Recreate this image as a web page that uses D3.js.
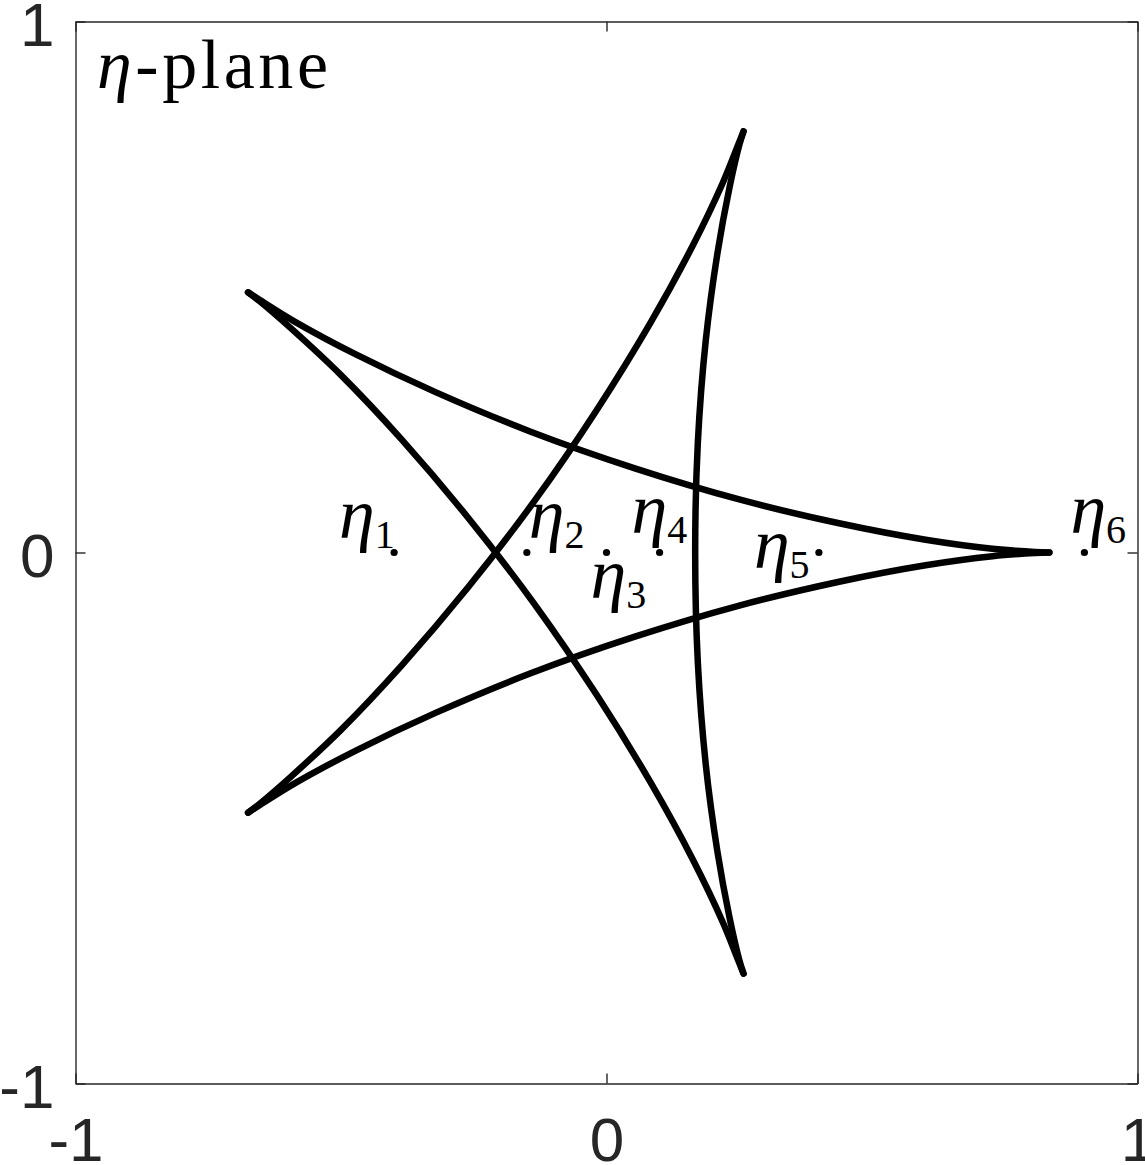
<!DOCTYPE html>
<html>
<head>
<meta charset="utf-8">
<script src="https://cdn.jsdelivr.net/npm/d3@7"></script>
<style>
  html, body { margin: 0; padding: 0; background: #fff; }
  svg { display: block; }
</style>
</head>
<body>
<svg id="chart" width="1145" height="1165"></svg>
<script>
// ---- data ----
const xTicks = [-1, 0, 1];
const yTicks = [-1, 0, 1];
const xTickLabels = ["-1", "0", "1"];
const yTickLabels = ["-1", "0", "1"];

// five curved edges of the star-shaped curve, cusp to cusp
const edgeRightToUpperLeft = [[0.834,0],[0.807,0.001],[0.727,0.007],[0.601,0.024],[0.438,0.055],[0.250,0.100],[0.052,0.159],[-0.144,0.228],[-0.322,0.302],[-0.472,0.373],[-0.584,0.433],[-0.652,0.475],[-0.675,0.490]];
const edgeUpperLeftToBottom = [[-0.675,0.490],[-0.653,0.473],[-0.593,0.421],[-0.500,0.334],[-0.386,0.213],[-0.261,0.066],[-0.135,-0.098],[-0.018,-0.269],[0.083,-0.433],[0.163,-0.579],[0.218,-0.694],[0.248,-0.768],[0.258,-0.793]];
const edgeBottomToTop = [[0.258,-0.793],[0.250,-0.767],[0.232,-0.689],[0.209,-0.564],[0.187,-0.400],[0.172,-0.207],[0.167,0],[0.172,0.207],[0.187,0.400],[0.209,0.564],[0.232,0.689],[0.250,0.767],[0.258,0.793]];
const edgeTopToLowerLeft = [[0.258,0.793],[0.248,0.768],[0.218,0.694],[0.163,0.579],[0.083,0.433],[-0.018,0.269],[-0.135,0.098],[-0.261,-0.066],[-0.386,-0.213],[-0.500,-0.334],[-0.593,-0.421],[-0.653,-0.473],[-0.675,-0.490]];
const edgeLowerLeftToRight = [[-0.675,-0.490],[-0.652,-0.475],[-0.584,-0.433],[-0.472,-0.373],[-0.322,-0.302],[-0.144,-0.228],[0.052,-0.159],[0.250,-0.100],[0.438,-0.055],[0.601,-0.024],[0.727,-0.007],[0.807,-0.001],[0.834,0]];
const edges = [edgeRightToUpperLeft, edgeUpperLeftToBottom, edgeBottomToTop, edgeTopToLowerLeft, edgeLowerLeftToRight];

// marked points on the real axis
const pointNames = ["1", "2", "3", "4", "5", "6"];
const pointX = [-0.40, -0.15, 0, 0.10, 0.40, 0.90];
const pointY = [0, 0, 0, 0, 0, 0];

const planeLabel = "-plane";

// ---- layout / style (not data) ----
const W = 1145, H = 1165;
const mLeft = 75.5, mRight = 1137.5, mTop = 21.5, mBottom = 1083.5;
const axisColor = "#262626";
const tickFont = "'Liberation Sans', Arial, Helvetica, sans-serif";
const serif = "'Liberation Serif', 'Times New Roman', serif";
// label offsets in pixels relative to each dot: [dx to text start, dy to baseline]
const labelOffsets = [[-55, -15], [2, -15], [-16, 45], [-28, -20], [-65, 15], [-14, -20]];

const svg = d3.select("#chart");
svg.append("rect").attr("width", W).attr("height", H).attr("fill", "#fff");

const x = d3.scaleLinear().domain([-1, 1]).range([mLeft, mRight]);
const y = d3.scaleLinear().domain([-1, 1]).range([mBottom, mTop]);

// axes
function styleAxis(g) {
  g.selectAll("path.domain").attr("stroke", axisColor).attr("stroke-width", 1.4);
  g.selectAll(".tick line").attr("stroke", axisColor).attr("stroke-width", 1.4);
  g.selectAll(".tick text").attr("fill", axisColor)
    .style("font-family", tickFont).style("font-size", "62px");
}
const gx = svg.append("g").attr("transform", `translate(0,${mBottom})`)
  .call(d3.axisBottom(x).tickValues(xTicks).tickFormat((d, i) => xTickLabels[i])
    .tickSizeInner(-10).tickSizeOuter(0).tickPadding(33));
styleAxis(gx);
const gy = svg.append("g").attr("transform", `translate(${mLeft},0)`)
  .call(d3.axisLeft(y).tickValues(yTicks).tickFormat((d, i) => yTickLabels[i])
    .tickSizeInner(-10).tickSizeOuter(0).tickPadding(21));
styleAxis(gy);
gy.selectAll(".tick text").attr("dy", "0.38em");
const gt = svg.append("g").attr("transform", `translate(0,${mTop})`)
  .call(d3.axisTop(x).tickValues(xTicks).tickFormat("").tickSizeInner(-10).tickSizeOuter(0));
styleAxis(gt);
const gr = svg.append("g").attr("transform", `translate(${mRight},0)`)
  .call(d3.axisRight(y).tickValues(yTicks).tickFormat("").tickSizeInner(-10).tickSizeOuter(0));
styleAxis(gr);

// curve
const line = d3.line().x(d => x(d[0])).y(d => y(d[1])).curve(d3.curveCatmullRom.alpha(0.5));
svg.append("g").selectAll("path").data(edges).join("path")
  .attr("d", line)
  .attr("fill", "none").attr("stroke", "#000").attr("stroke-width", 6.5)
  .attr("stroke-linecap", "round").attr("stroke-linejoin", "round");

// points and labels
const pts = pointX.map((v, i) => ({ x: v, y: pointY[i], name: pointNames[i], off: labelOffsets[i] }));
svg.append("g").selectAll("circle").data(pts).join("circle")
  .attr("cx", d => x(d.x)).attr("cy", d => y(d.y)).attr("r", 3.6).attr("fill", "#000");

const lab = svg.append("g").selectAll("text").data(pts).join("text")
  .attr("x", d => x(d.x) + d.off[0]).attr("y", d => y(d.y) + d.off[1])
  .style("font-family", serif).attr("fill", "#000");
lab.append("tspan").style("font-style", "italic").style("font-size", "72px").text("η");
lab.append("tspan").attr("dx", 0).attr("dy", 10).style("font-size", "40px").text(d => d.name);

// plane label
const pl = svg.append("text").attr("x", 97).attr("y", 88)
  .style("font-family", serif).style("font-size", "70px").attr("fill", "#000")
  .attr("textLength", 231).attr("lengthAdjust", "spacing");
pl.append("tspan").style("font-style", "italic").text("η");
pl.append("tspan").text(planeLabel);
</script>
</body>
</html>
